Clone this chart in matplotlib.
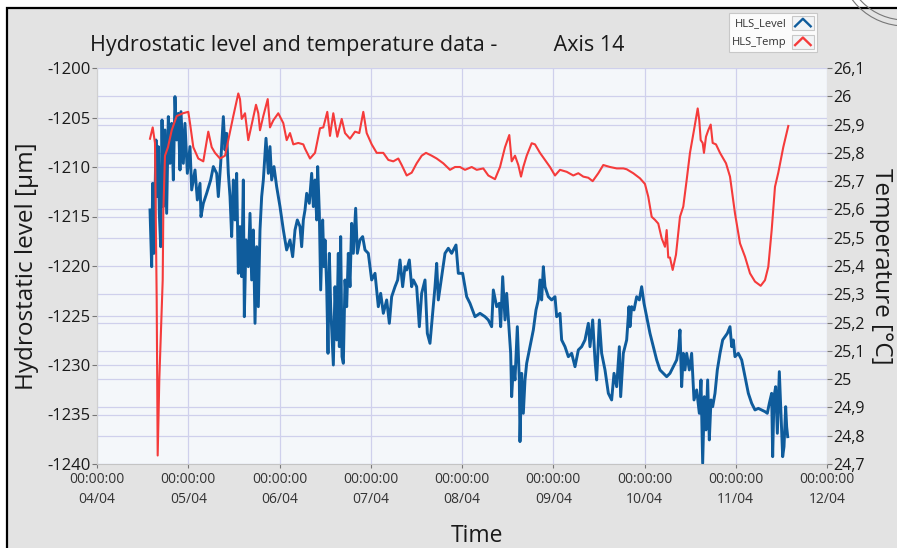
import matplotlib
matplotlib.use('Agg')
import matplotlib.pyplot as plt
from matplotlib.patches import Rectangle, Arc
from matplotlib.lines import Line2D
from matplotlib.legend_handler import HandlerBase
from matplotlib.ticker import FixedLocator

plt.rcParams['font.family'] = ['Open Sans', 'DejaVu Sans']

# ---------------- data (hours since 04/04 00:00:00) ----------------
day_labels = ['04/04', '05/04', '06/04', '07/04', '08/04', '09/04', '10/04', '11/04', '12/04']
level_ticks = [-1240, -1235, -1230, -1225, -1220, -1215, -1210, -1205, -1200]
temp_ticks = [24.7, 24.8, 24.9, 25.0, 25.1, 25.2, 25.3, 25.4, 25.5, 25.6, 25.7, 25.8, 25.9, 26.0, 26.1]

level_hours = [
    13.94, 14.38, 14.64, 14.99, 15.52, 15.87, 16.13, 16.39, 16.75, 17.10, 17.44, 17.88, 18.32, 18.76,
    19.20, 19.64, 20.08, 20.51, 20.95, 21.39, 21.83, 22.09, 22.71, 23.14, 23.76, 24.46, 24.90, 25.78,
    26.39, 27.09, 27.35, 27.97, 28.84, 29.90, 30.60, 31.47, 31.91, 32.53, 33.23, 33.67, 34.10, 34.54,
    34.98, 35.42, 35.86, 36.30, 36.73, 37.17, 37.61, 38.05, 38.49, 38.75, 39.19, 39.80, 40.24, 40.68,
    41.12, 41.56, 41.99, 42.43, 42.87, 43.31, 43.75, 44.45, 45.06, 45.50, 45.94, 46.55, 47.25, 48.13,
    49.01, 49.88, 50.76, 51.46, 52.08, 52.69,
    53.39, 53.83, 54.27, 54.71, 55.15, 55.84, 56.46, 56.90, 57.34, 57.78, 58.04, 58.48, 58.83, 59.35,
    59.70, 59.97, 60.41, 60.76, 61.11, 61.46, 62.16, 62.60, 63.04, 63.47, 63.74, 64.09, 64.44, 64.79,
    65.23, 65.67, 66.10, 66.54, 66.98, 67.42, 68.03, 68.47, 69.17, 69.87, 70.49, 71.36, 72.24, 73.12,
    73.99, 74.61, 75.31, 76.19, 76.89, 77.50, 78.38, 79.08, 79.69, 80.39, 81.01, 81.45, 82.15, 82.76,
    83.20, 84.08, 84.78, 85.39, 86.27, 86.88, 87.58, 88.28, 88.90, 89.34, 89.77, 90.65, 91.53, 92.40,
    93.28, 94.42, 95.03,
    96.17, 97.23, 98.10, 99.42, 100.73, 102.05, 102.92, 103.80, 104.24, 105.12, 105.82, 106.17, 106.70,
    107.31, 107.75, 108.45, 108.80, 109.06, 109.50, 109.94, 110.55, 111.08, 111.25, 111.69, 112.13,
    112.57, 113.01, 113.88, 114.76, 115.46, 116.08, 116.51, 116.95, 117.39, 117.83, 118.71, 119.58,
    120.46, 120.90, 121.77, 122.21, 123.09, 123.97, 124.84, 125.72, 126.60, 127.47, 128.35, 129.23,
    129.66, 130.37, 130.98, 131.42, 132.12, 132.73, 133.61, 134.49, 135.36, 135.98, 136.68, 137.38,
    137.73, 138.43, 139.31, 139.92,
    140.18, 140.62, 141.24, 141.94, 142.64, 143.25, 143.87, 144.57, 145.44, 146.32, 147.20, 148.07,
    148.95, 149.83, 150.70, 151.58, 152.46, 152.90, 153.33, 153.77, 154.21, 154.65, 155.09, 155.79,
    156.40, 157.02, 157.72, 158.42, 158.86, 159.30, 159.74, 160.17, 160.61, 161.05, 161.49, 161.93,
    162.54, 163.15, 163.86, 164.56, 165.17, 165.79, 166.49, 166.93, 167.36, 167.80, 168.68, 169.56,
    170.43, 171.31, 172.19, 173.06, 173.94, 174.81, 175.69, 176.30, 176.83, 177.44, 177.71, 178.06,
    178.50, 178.94, 179.46, 179.90, 180.34, 180.69, 181.13, 181.39, 181.66,
]
level_um = [
    -1214.34, -1220.07, -1211.65, -1218.72, -1207.27, -1212.99, -1207.94, -1214.68, -1218.05, -1205.25,
    -1214.00, -1206.26, -1214.68, -1204.91, -1209.63, -1205.59, -1211.31, -1202.89, -1207.27, -1204.58,
    -1210.30, -1204.41, -1209.63, -1205.59, -1210.64, -1207.94, -1212.32, -1210.30, -1213.33, -1211.65,
    -1215.01, -1213.67, -1212.66, -1211.31, -1209.96, -1210.64, -1212.99, -1209.63, -1204.91, -1208.28,
    -1206.60, -1210.64, -1212.99, -1217.03, -1211.31, -1215.35, -1210.64, -1220.74, -1216.02, -1221.08,
    -1211.31, -1225.12, -1217.37, -1220.07, -1214.68, -1221.41, -1216.36, -1225.79, -1218.05, -1224.11,
    -1216.36, -1212.99, -1211.31, -1207.10, -1210.64, -1207.94, -1211.31, -1209.96, -1211.98, -1214.00,
    -1216.36, -1218.38, -1217.37, -1219.06, -1216.36, -1215.35,
    -1216.02, -1218.05, -1215.35, -1214.34, -1212.66, -1213.67, -1210.64, -1214.00, -1211.31, -1215.35,
    -1209.96, -1214.68, -1222.42, -1215.35, -1220.07, -1217.37, -1222.09, -1228.82, -1218.72, -1224.11,
    -1230.00, -1222.09, -1227.47, -1218.72, -1228.15, -1217.03, -1229.16, -1229.83, -1221.41, -1224.11,
    -1218.72, -1222.09, -1215.69, -1218.72, -1214.17, -1218.72, -1217.37, -1217.03, -1218.38, -1218.72,
    -1221.41, -1220.74, -1224.11, -1222.76, -1224.78, -1223.43, -1225.79, -1223.10, -1222.09, -1221.41,
    -1219.39, -1222.09, -1220.07, -1220.40, -1219.39, -1222.09, -1221.41, -1222.09, -1226.13, -1222.76,
    -1221.41, -1226.80, -1227.81, -1224.78, -1222.09, -1219.73, -1223.43, -1221.08, -1218.72, -1218.21,
    -1218.72, -1217.88, -1220.74,
    -1220.74, -1223.10, -1223.77, -1225.12, -1224.78, -1225.12, -1225.45, -1226.13, -1222.42, -1224.11,
    -1223.77, -1226.13, -1221.08, -1225.45, -1222.76, -1226.80, -1228.82, -1233.20, -1230.17, -1231.51,
    -1226.13, -1231.51, -1237.74, -1230.84, -1234.88, -1231.51, -1229.83, -1228.15, -1226.46, -1224.44,
    -1223.43, -1221.41, -1223.43, -1220.07, -1222.09, -1223.10, -1223.43, -1223.10, -1225.12, -1224.78,
    -1227.47, -1228.15, -1229.16, -1228.82, -1230.17, -1228.48, -1228.15, -1227.47, -1225.79, -1228.15,
    -1225.45, -1229.49, -1231.51, -1225.45, -1228.82, -1230.50, -1232.86, -1233.53, -1230.84, -1232.19,
    -1228.15, -1233.20, -1228.82, -1227.47, -1224.11,
    -1226.13, -1224.11, -1224.44, -1223.10, -1223.43, -1222.09, -1223.77, -1225.12, -1226.80, -1228.15,
    -1229.49, -1230.50, -1230.84, -1231.18, -1230.84, -1230.17, -1229.49, -1228.48, -1226.46, -1232.19,
    -1228.82, -1230.50, -1228.82, -1230.50, -1228.82, -1233.53, -1232.52, -1234.88, -1231.51, -1239.93,
    -1233.20, -1236.56, -1231.51, -1237.57, -1233.53, -1234.21, -1232.86, -1230.50, -1228.82, -1227.47,
    -1227.14, -1226.80, -1226.13, -1228.15, -1227.47, -1229.16, -1228.82, -1229.49, -1231.18, -1232.86,
    -1233.87, -1234.54, -1234.38, -1234.54, -1234.71, -1234.88, -1233.87, -1232.86, -1239.26, -1233.20,
    -1232.19, -1236.90, -1230.67, -1234.88, -1239.26, -1238.25, -1234.21, -1236.23, -1237.24,
]

temp_hours = [
    13.94, 14.65, 15.25, 15.70, 15.96, 16.39, 17.02, 17.28, 17.44, 17.88, 18.67, 19.65, 20.96, 22.62,
    24.01, 24.46, 25.33, 26.64, 27.96, 29.27, 30.17, 31.04, 32.35, 33.67, 34.53, 35.85, 37.16, 37.61,
    38.06, 38.93, 39.79, 40.69, 41.82, 42.42, 42.87, 43.74, 44.90, 45.50, 46.37, 47.68, 49.00, 49.89,
    50.76, 51.63, 52.94, 54.26, 54.71, 56.02, 57.34, 58.65, 59.52, 60.57, 61.28, 62.15, 63.20, 64.36,
    65.23, 66.54, 67.86, 68.99, 70.04, 70.93, 72.25, 73.56, 75.30, 76.62, 77.93, 79.25, 80.14, 81.45,
    82.77, 84.08, 85.40, 86.53, 88.03, 89.34, 91.08, 92.84, 94.16, 95.47, 96.79, 98.55, 99.87, 101.60,
    102.92, 104.68, 106.00, 107.31, 108.44, 109.07, 109.94, 110.81, 111.52, 112.12, 113.02, 114.33,
    115.20, 116.51, 117.83, 119.14, 120.46, 121.77, 123.54, 125.27, 126.59, 127.90, 129.22, 130.37,
    131.85, 133.16, 134.92, 136.69, 138.43, 139.31, 141.04, 142.81, 144.12, 144.99, 145.89, 146.76,
    147.62, 148.52, 149.39, 149.83, 150.25, 150.70, 151.41, 152.28, 153.33, 154.20, 155.09, 155.96,
    157.01, 157.99, 158.41, 158.78, 159.30, 159.64, 160.17, 160.77, 161.41, 161.93, 162.80, 163.86,
    165.44, 166.49, 167.80, 169.12, 170.43, 171.75, 173.06, 174.56, 175.69, 176.56, 177.45, 178.32,
    179.19, 180.50, 181.82,
]
temp_c = [
    25.85, 25.89, 25.835, 25.28, 24.73, 25.00, 25.24, 25.35, 25.59, 25.79, 25.82, 25.88, 25.93, 25.94,
    25.945, 25.905, 25.82, 25.78, 25.77, 25.875, 25.82, 25.80, 25.78, 25.79, 25.845, 25.93, 26.01, 25.99,
    25.92, 25.94, 25.845, 25.90, 25.97, 25.94, 25.88, 25.93, 25.99, 25.89, 25.915, 25.94, 25.905, 25.845,
    25.87, 25.83, 25.835, 25.83, 25.815, 25.78, 25.80, 25.887, 25.89, 25.945, 25.86, 25.94, 25.857, 25.92,
    25.87, 25.85, 25.875, 25.87, 25.945, 25.87, 25.83, 25.80, 25.80, 25.775, 25.77, 25.78, 25.757, 25.72,
    25.73, 25.763, 25.79, 25.80, 25.79, 25.78, 25.763, 25.74, 25.75, 25.75, 25.74, 25.75, 25.74, 25.745,
    25.72, 25.707, 25.75, 25.82, 25.863, 25.77, 25.79, 25.757, 25.716, 25.75, 25.79, 25.834,
    25.83, 25.80, 25.775, 25.75, 25.72, 25.74, 25.733, 25.72, 25.728, 25.716, 25.712, 25.70,
    25.728, 25.757, 25.75, 25.745, 25.745, 25.742, 25.728, 25.71, 25.69, 25.645, 25.574, 25.563,
    25.55, 25.498, 25.468, 25.527, 25.43, 25.43, 25.386, 25.44, 25.574, 25.61, 25.704, 25.80,
    25.88, 25.957, 25.915, 25.845, 25.835, 25.80, 25.857, 25.88, 25.90, 25.835, 25.83, 25.80,
    25.763, 25.716, 25.586, 25.48, 25.433, 25.374, 25.345, 25.33, 25.35, 25.397, 25.527, 25.68,
    25.73, 25.82, 25.895,
]

# ---------------- styling ----------------
W, H = 897, 548
BG = '#e3e3e3'
PLOT_BG = '#f4f7fa'
GRID = '#cfd0ec'
BLUE = '#0f5c9c'
RED = '#f53b3b'
TXT = '#1a1a1a'

fig = plt.figure(figsize=(W / 100, H / 100), dpi=100, facecolor='white')
fig.patches.append(Rectangle((7 / W, -0.05), 1.2, 1 - 8 / H + 0.05, transform=fig.transFigure,
                             facecolor=BG, edgecolor='black', linewidth=1.6, zorder=-10))
for r in (60, 66):
    fig.patches.append(Arc((905 / W, 1 + 40 / H), 2 * r / W, 2 * r / H, theta1=180, theta2=270,
                           transform=fig.transFigure, color='#777777', linewidth=0.8))

ax = fig.add_axes([97 / W, 84 / H, 730 / W, 396 / H])
ax.set_facecolor(PLOT_BG)
ax2 = ax.twinx()

ax.plot(level_hours, level_um, color=BLUE, linewidth=2.1, label='HLS_Level', zorder=3)
ax2.plot(temp_hours, temp_c, color=RED, linewidth=1.5, label='HLS_Temp', zorder=3)

ax.set_xlim(0, 192)
ax.set_ylim(-1240, -1200)
ax2.set_ylim(24.7, 26.1)

ax.set_xticks([24 * i for i in range(len(day_labels))])
ax.set_xticklabels(['00:00:00\n' + d for d in day_labels], linespacing=1.45)
ax.set_yticks(level_ticks)
ax.set_yticklabels([str(v) for v in level_ticks])
ax2.set_yticks(temp_ticks)
ax2.set_yticklabels([f'{v:.1f}'.rstrip('0').rstrip('.').replace('.', ',') for v in temp_ticks])

# horizontal grid at the temperature ticks, drawn behind the curves
ax.yaxis.set_minor_locator(FixedLocator([-1240 + (t - 24.7) / 1.4 * 40 for t in temp_ticks]))
ax.grid(True, which='both', axis='y', color=GRID, linewidth=0.9)
ax.grid(True, which='major', axis='x', color=GRID, linewidth=0.9)
ax.set_axisbelow(True)
ax.tick_params(axis='y', which='minor', length=0)

for a in (ax, ax2):
    for s in a.spines.values():
        s.set_visible(False)
ax.spines['bottom'].set_visible(True)
ax.spines['bottom'].set_color('#c4c4c4')
ax.spines['left'].set_visible(True)
ax.spines['left'].set_color('#d0d0d0')

ax.tick_params(axis='y', which='major', direction='out', length=3.5, width=0.8, color='#777777',
               labelsize=12, labelcolor=TXT, pad=1)
ax2.tick_params(axis='y', direction='out', length=3.5, width=0.8, color='#777777',
                labelsize=11.5, labelcolor=TXT, pad=1)
ax.tick_params(axis='x', direction='out', length=3, width=0.8, color='#777777',
               labelsize=10, labelcolor='#333333', pad=3)

ax.set_ylabel('Hydrostatic level [µm]', fontsize=17.5, color=TXT)
ax.yaxis.set_label_coords(-0.08, 0.5)
ax2.set_ylabel('Temperature [°C]', fontsize=17.5, color=TXT, rotation=270, va='bottom')
ax2.yaxis.set_label_coords(1.058, 0.5)
ax.set_xlabel('Time', fontsize=16.5, color=TXT)
ax.xaxis.set_label_coords(0.52, -0.152)

fig.text(90 / W, 1 - 45 / H, 'Hydrostatic level and temperature data -          Axis 14',
         fontsize=15.5, color=TXT, ha='left', va='center')


class CaretHandler(HandlerBase):
    def create_artists(self, legend, orig_handle, xdescent, ydescent, width, height, fontsize, trans):
        x0, y0 = -xdescent, -ydescent
        box = Rectangle((x0, y0), width, height, facecolor='#f2f4f6', edgecolor='#c8c8c8',
                        linewidth=0.8, transform=trans)
        caret = Line2D([x0 + 0.15 * width, x0 + 0.5 * width, x0 + 0.85 * width],
                       [y0 + 0.25 * height, y0 + 0.8 * height, y0 + 0.25 * height],
                       color=orig_handle.get_color(), linewidth=1.7, transform=trans)
        return [box, caret]


handles = ax.get_lines() + ax2.get_lines()
leg = fig.legend(handles, [h.get_label() for h in handles], loc='upper right',
                 bbox_to_anchor=(817 / W, 1 - 13 / H), bbox_transform=fig.transFigure,
                 fontsize=8, markerfirst=False, handlelength=2.0, handleheight=1.53,
                 handletextpad=0.5, labelspacing=0.45, borderpad=0.27, borderaxespad=0,
                 fancybox=False, framealpha=1, facecolor='#fbfbfb', edgecolor='#c8c8c8',
                 handler_map={Line2D: CaretHandler()})
leg.get_frame().set_linewidth(0.8)
for t in leg.get_texts():
    t.set_color('#333333')

fig.savefig('out.png', dpi=100, facecolor=fig.get_facecolor())
